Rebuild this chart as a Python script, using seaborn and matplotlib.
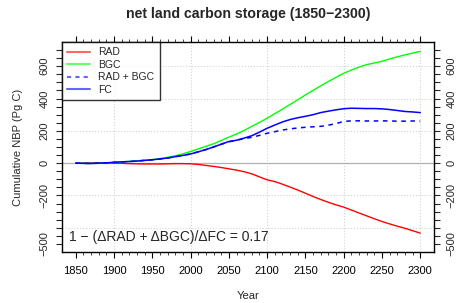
import matplotlib
matplotlib.use("Agg")
import matplotlib.pyplot as plt
import seaborn as sns
import numpy as np
import pandas as pd

# data (every 10 years)
years = list(range(1850, 2301, 10))

rad = [0, 0, 1, 2, 1, 0, -1, -3, -4, -5,
       -5, -5, -4, -3, -3, -4, -8, -14, -20, -27,
       -35, -43, -53, -66, -85, -103, -114, -130, -148, -166,
       -186, -206, -225, -242, -258, -272, -290, -308, -326, -344,
       -361, -376, -390, -403, -418, -433]

bgc = [0, -1, -2, 0, 2, 5, 8, 11, 15, 18,
       22, 28, 36, 46, 58, 72, 88, 104, 120, 140,
       161, 180, 202, 228, 252, 278, 306, 334, 363, 392,
       422, 450, 478, 505, 531, 556, 576, 594, 610, 620,
       630, 645, 658, 670, 681, 692]

radbgc = [0, -1, -2, 0, 2, 5, 8, 10, 13, 17,
          21, 26, 32, 40, 48, 57, 70, 84, 100, 117,
          132, 142, 152, 160, 172, 185, 195, 205, 212, 218,
          222, 225, 228, 235, 245, 258, 262, 262, 261, 261,
          262, 261, 260, 260, 261, 261]

fc = [0, -1, -2, 0, 2, 5, 8, 10, 13, 17,
      21, 26, 32, 40, 48, 57, 70, 84, 100, 117,
      134, 142, 155, 170, 192, 216, 236, 255, 270, 281,
      290, 300, 313, 322, 330, 337, 340, 339, 338, 338,
      336, 332, 326, 320, 317, 313]

ratio = 0.17

df = pd.DataFrame({'Year': years, 'RAD': rad, 'BGC': bgc,
                   'RAD + BGC': radbgc, 'FC': fc})

sns.set_style("white")
plt.rcParams['font.family'] = ['Liberation Sans', 'DejaVu Sans']

fig = plt.figure(figsize=(4.6, 3.03), dpi=100)
ax = fig.add_axes([0.1348, 0.1683, 0.8087, 0.6931])

# grid + zero line
for gx in [1900, 2000, 2100, 2200, 2300]:
    ax.axvline(gx, color='#d3d3d3', lw=0.8, ls=':', zorder=0)
for gy in [-400, -200, 200, 400, 600]:
    ax.axhline(gy, color='#d3d3d3', lw=0.8, ls=':', zorder=0)
ax.axhline(0, color='#b0b0b0', lw=0.9, zorder=1)

sns.lineplot(data=df, x='Year', y='RAD', color='red', lw=1, ax=ax, label='_r')
sns.lineplot(data=df, x='Year', y='BGC', color='#00ff00', lw=1, ax=ax, label='_g')
sns.lineplot(data=df, x='Year', y='RAD + BGC', color='blue', lw=1.1, ax=ax,
             label='_d', linestyle=(0, (3, 3)))
sns.lineplot(data=df, x='Year', y='FC', color='blue', lw=1.1, ax=ax, label='_f')

ax.set_xlim(1832, 2318)
ax.set_ylim(-550, 750)

ax.set_xticks(np.arange(1850, 2301, 50))
ax.set_xticks(np.arange(1850, 2301, 10), minor=True)
ylabs = [-500, -200, 0, 200, 400, 600]
ax.set_yticks(ylabs)
ax.set_yticks(np.arange(-500, 701, 50), minor=True)
ax.tick_params(axis='x', which='major', direction='out', length=4, width=0.8,
               top=True, bottom=True, labelsize=8, pad=6, colors='black')
ax.tick_params(axis='x', which='minor', direction='out', length=2.2, width=0.6,
               top=True, bottom=True)
ax.tick_params(axis='y', which='both', direction='out', length=4, width=0.8,
               left=True, right=True, labelleft=True, labelright=True,
               labelsize=8, pad=5)
for lab in ax.get_yticklabels():
    lab.set_rotation(90)
    lab.set_va('center')
for s in ax.spines.values():
    s.set_color('black')
    s.set_linewidth(1.0)

ax.set_xlabel('Year', fontsize=8, labelpad=11)
ax.set_ylabel('Cumulative NBP (Pg C)', fontsize=8, labelpad=12)
ax.set_title('net land carbon storage (1850\u22122300)', fontsize=10.2,
             fontweight='bold', pad=17)

ax.text(0.02, 0.07, '1 \u2212 (\u0394RAD + \u0394BGC)/\u0394FC = %.2f' % ratio,
        transform=ax.transAxes, fontsize=10, ha='left', va='center')

# legend with lighter lines
handles = [plt.Line2D([], [], color='red', alpha=0.6, lw=1.5),
           plt.Line2D([], [], color='#00ff00', alpha=0.6, lw=1.5),
           plt.Line2D([], [], color='blue', alpha=0.6, lw=1.5, ls=(0, (2, 2))),
           plt.Line2D([], [], color='blue', alpha=0.6, lw=1.5)]
leg = ax.legend(handles, ['RAD', 'BGC', 'RAD + BGC', 'FC'], loc='upper left',
                fontsize=7.5, frameon=True, fancybox=False, borderaxespad=0,
                handlelength=2.2, labelspacing=0.25, handletextpad=0.8,
                borderpad=0.5)
leg.get_frame().set_edgecolor('black')
leg.get_frame().set_linewidth(1.0)

fig.savefig('out.png', dpi=100)
